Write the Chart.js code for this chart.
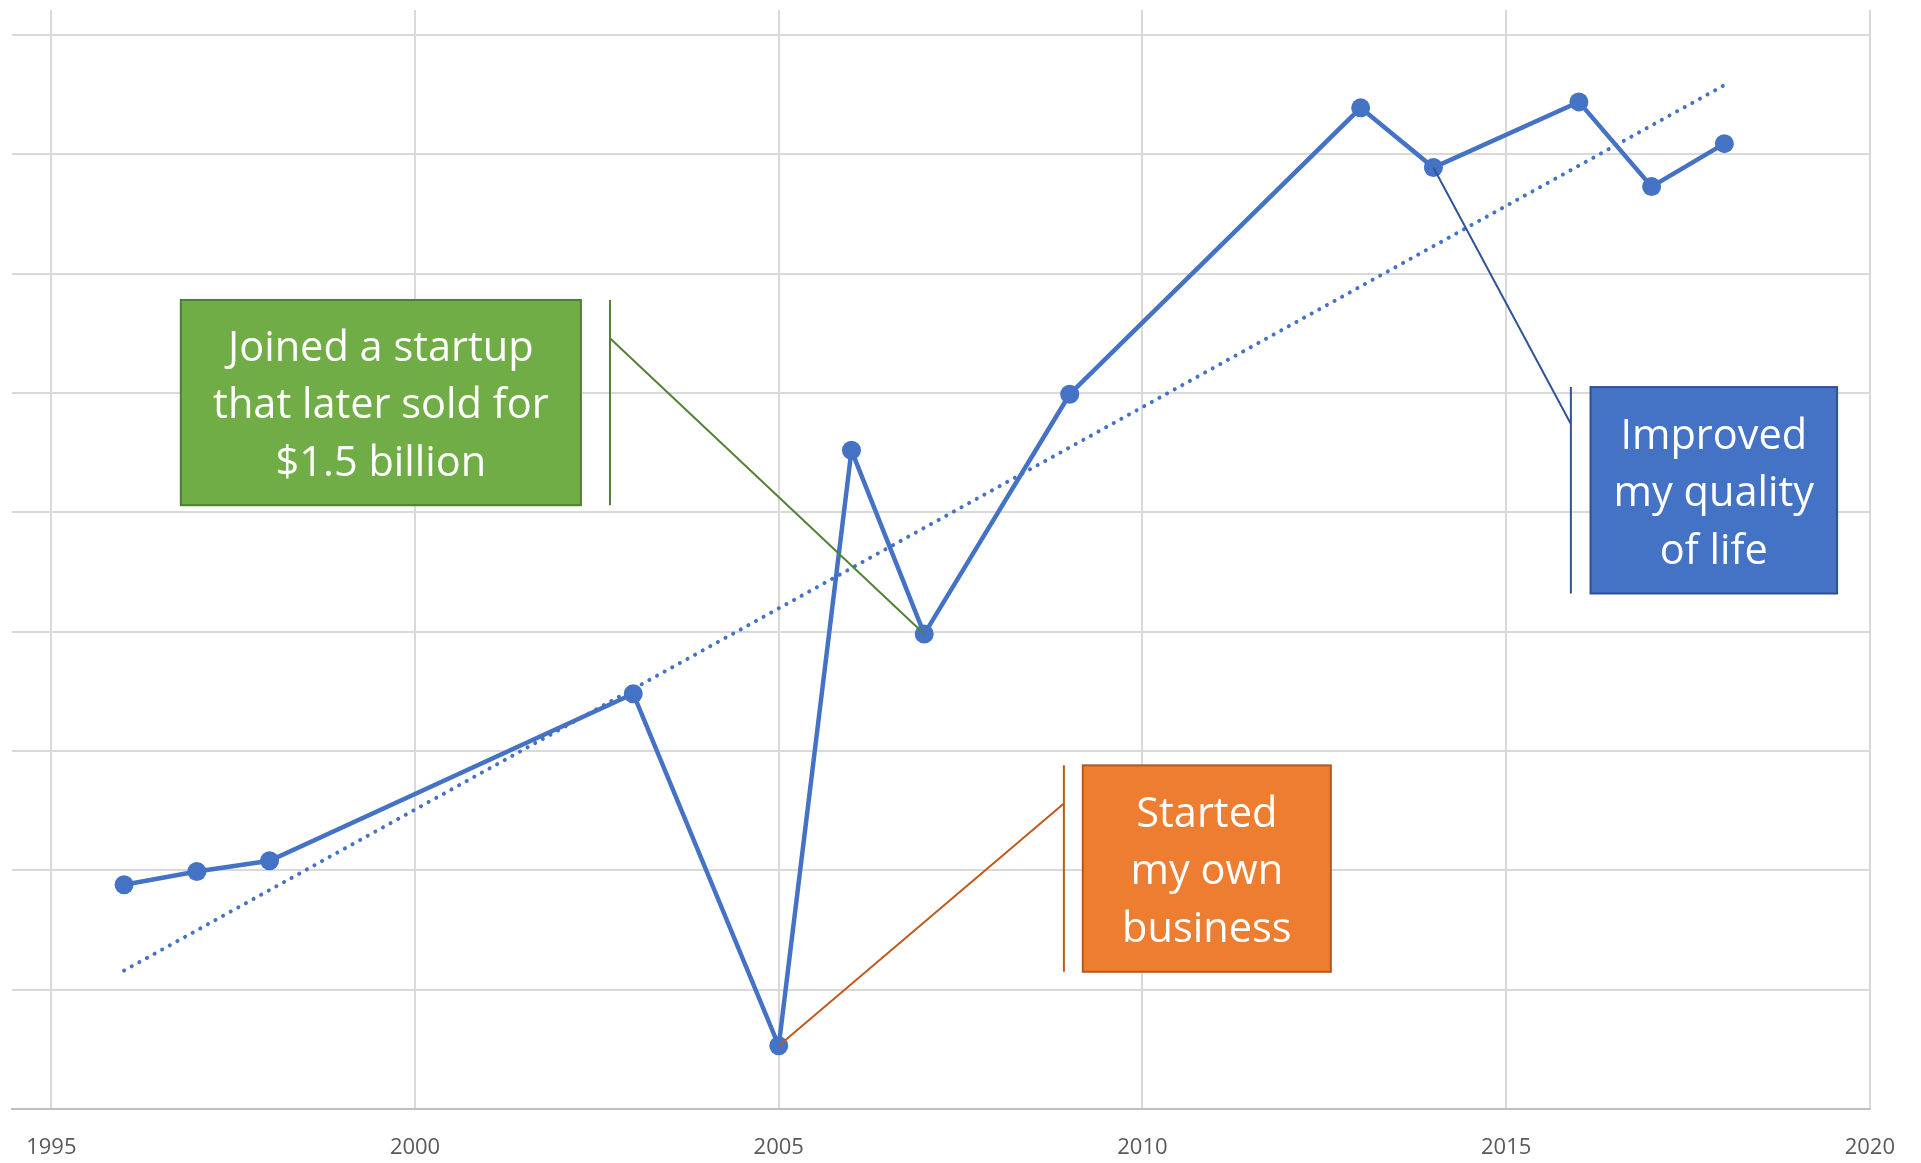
<!DOCTYPE html>
<html>
<head>
<meta charset="utf-8">
<script src="https://cdn.jsdelivr.net/npm/chart.js@4.4.1/dist/chart.umd.min.js"></script>
<style>
  html, body { margin: 0; padding: 0; background: #fff; }
  #wrap { width: 1921px; height: 1163px; }
</style>
</head>
<body>
<div id="wrap"><canvas id="myChart"></canvas></div>
<script>
// data
const years = [1996, 1997, 1998, 2003, 2005, 2006, 2007, 2009, 2013, 2014, 2016, 2017, 2018];
const values = [1.88, 1.99, 2.08, 3.48, 0.53, 5.52, 3.98, 5.99, 8.39, 7.89, 8.44, 7.73, 8.09];
const trendYears = [1996, 2018];
const trendValues = [1.16, 8.58];
const xTicks = [1995, 2000, 2005, 2010, 2015, 2020];
const yTicks = [0, 1, 2, 3, 4, 5, 6, 7, 8, 9];

// callouts: box in data units, leader bar at barX, elbow at elbowY, pointing at point index
const callouts = [
  { lines: ["Joined a startup", "that later sold for", "$1.5 billion"], target: 6,
    x0: 1996.78, x1: 2002.28, y0: 6.78, y1: 5.06, barX: 2002.68, elbowY: 6.46,
    fill: "#70ad47", border: "#507e32", lead: "#548235" },
  { lines: ["Started", "my own", "business"], target: 4,
    x0: 2009.18, x1: 2012.59, y0: 2.88, y1: 1.15, barX: 2008.92, elbowY: 2.56,
    fill: "#ed7d31", border: "#ae5a21", lead: "#c0591a" },
  { lines: ["Improved", "my quality", "of life"], target: 9,
    x0: 2016.16, x1: 2019.55, y0: 6.05, y1: 4.32, barX: 2015.89, elbowY: 5.74,
    fill: "#4472c4", border: "#2f528f", lead: "#2f5597" },
];

const calloutPlugin = {
  id: "callouts",
  afterDatasetsDraw(chart) {
    const c = chart.ctx;
    const xs = chart.scales.x, ys = chart.scales.y;
    callouts.forEach((o) => {
      const bx = xs.getPixelForValue(o.barX);
      const top = ys.getPixelForValue(o.y0);
      const bot = ys.getPixelForValue(o.y1);
      const px = xs.getPixelForValue(years[o.target]);
      const py = ys.getPixelForValue(values[o.target]);
      c.save();
      c.strokeStyle = o.lead;
      c.lineWidth = 2;
      c.beginPath();
      c.moveTo(bx, top);
      c.lineTo(bx, bot);
      c.moveTo(bx, ys.getPixelForValue(o.elbowY));
      c.lineTo(px, py);
      c.stroke();

      const l = xs.getPixelForValue(o.x0), r = xs.getPixelForValue(o.x1);
      c.fillStyle = o.fill;
      c.fillRect(l, top, r - l, bot - top);
      c.strokeStyle = o.border;
      c.lineWidth = 2;
      c.strokeRect(l, top, r - l, bot - top);

      c.fillStyle = "#ffffff";
      c.font = "41.5px 'Open Sans'";
      c.textAlign = "center";
      c.textBaseline = "middle";
      const lh = 57.5;
      const cy = (top + bot) / 2 + 4;
      o.lines.forEach((t, i) => {
        c.fillText(t, (l + r) / 2, cy + (i - (o.lines.length - 1) / 2) * lh);
      });
      c.restore();
    });
  },
};

const ctx = document.getElementById("myChart").getContext("2d");

new Chart(ctx, {
  type: "scatter",
  data: {
    datasets: [
      {
        label: "Value",
        data: years.map((y, i) => ({ x: y, y: values[i] })),
        showLine: true,
        borderColor: "#4472c4",
        backgroundColor: "#4472c4",
        borderWidth: 4.5,
        pointRadius: 9.5,
        pointBorderWidth: 0,
        order: 1,
      },
      {
        label: "Trend",
        data: trendYears.map((y, i) => ({ x: y, y: trendValues[i] })),
        showLine: true,
        borderColor: "#4472c4",
        borderWidth: 4,
        borderDash: [0.1, 8.6],
        borderCapStyle: "round",
        pointRadius: 0,
        order: 2,
      },
    ],
  },
  options: {
    responsive: true,
    maintainAspectRatio: false,
    animation: false,
    layout: { padding: { left: 10, right: 50, top: 10, bottom: 0 } },
    plugins: { legend: { display: false }, tooltip: { enabled: false } },
    scales: {
      x: {
        type: "linear",
        min: 1994.465,
        max: 2020,
        afterBuildTicks: (s) => { s.ticks = xTicks.map((v) => ({ value: v })); },
        afterFit: (s) => { s.height = 54; },
        grid: { color: "#d9d9d9", lineWidth: 2, drawTicks: false },
        border: { display: true, color: "#bfbfbf", width: 2 },
        ticks: {
          color: "#595959",
          font: { family: "'Open Sans'", size: 22 },
          padding: 26,
          maxRotation: 0,
          autoSkip: false,
          callback: (v) => String(v),
        },
      },
      y: {
        min: 0,
        max: 9.21,
        afterBuildTicks: (s) => { s.ticks = yTicks.map((v) => ({ value: v })); },
        grid: { color: "#d9d9d9", lineWidth: 2, drawTicks: false },
        border: { display: false },
        ticks: { display: false },
      },
    },
  },
  plugins: [calloutPlugin],
});
</script>
</body>
</html>
